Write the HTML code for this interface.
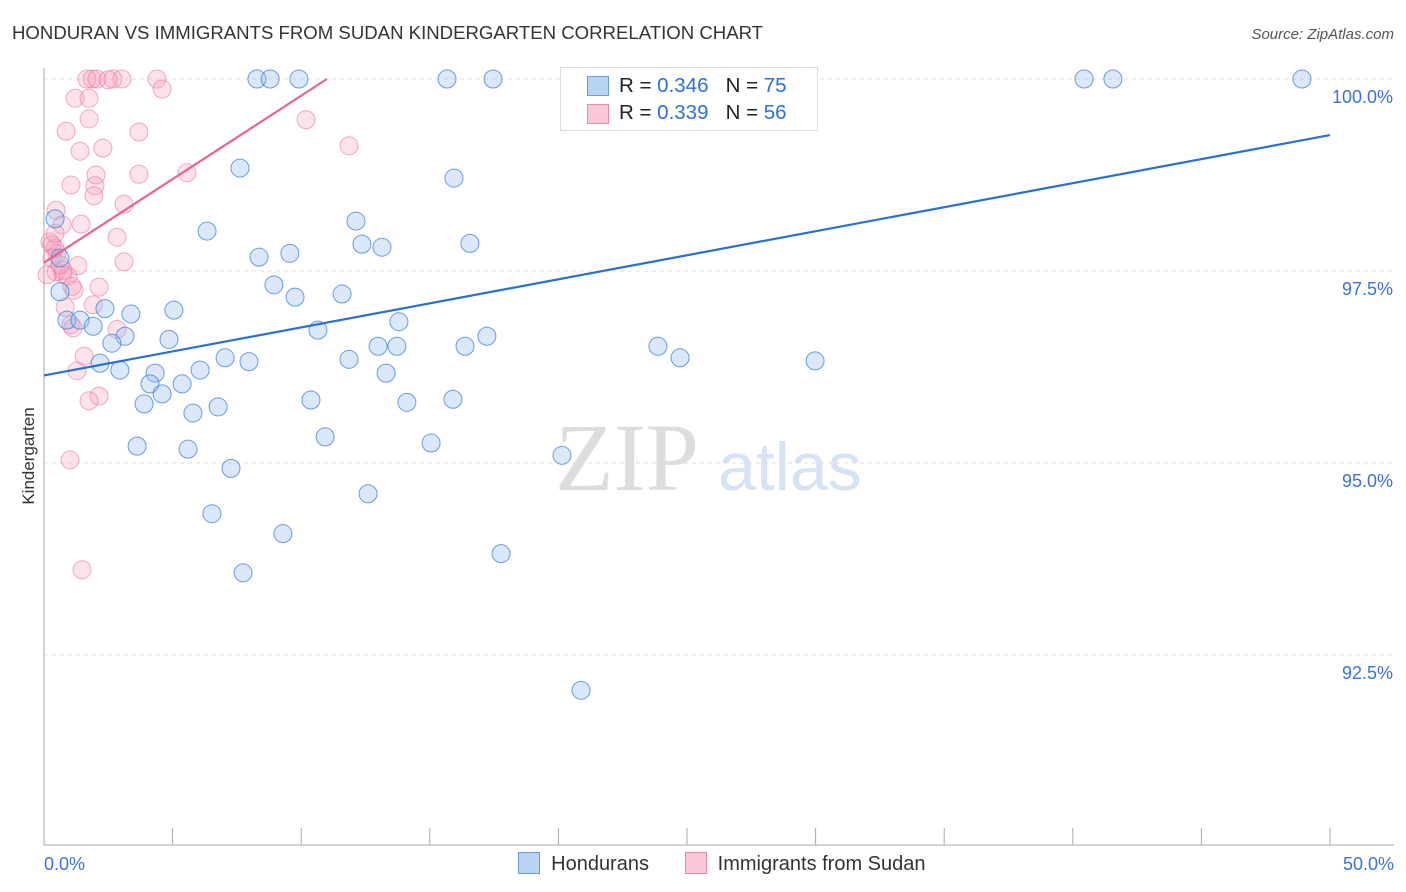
<!DOCTYPE html>
<html><head><meta charset="utf-8"><style>
body{margin:0;background:#fff;font-family:"Liberation Sans",sans-serif;}
#wrap{position:relative;width:1406px;height:892px;overflow:hidden;}
</style></head><body>
<div id="wrap">
<svg id="svg" width="1406" height="892">
<text x="12" y="39" font-size="18.6" fill="#333">HONDURAN VS IMMIGRANTS FROM SUDAN KINDERGARTEN CORRELATION CHART</text>
<text x="1394" y="39" font-size="15" fill="#555" font-style="italic" text-anchor="end">Source: ZipAtlas.com</text>
<text x="34" y="456" font-size="17" fill="#333" transform="rotate(-90 34 456)" text-anchor="middle">Kindergarten</text>
<text x="555" y="490" font-size="96" fill="#ddd" font-family="Liberation Serif,serif">ZIP</text>
<text x="718" y="490" font-size="68" fill="#d6e3f4">atlas</text>
<g id="grid"></g><g id="pts"></g><g id="lines"></g>
</svg>
<div style="position:absolute;left:560px;top:67px;width:256px;height:62px;border:1px solid #ddd;background:#fff;font-size:20.5px;color:#222;">
 <div style="position:absolute;left:26px;top:8px;width:20px;height:18px;background:#b9d3f3;border:1px solid #6a9be0"></div>
 <div style="position:absolute;left:58px;top:6px;white-space:nowrap">R = <span style="color:#2c6fd6">0.346</span>&nbsp;&nbsp;&nbsp;N = <span style="color:#2c6fd6">75</span></div>
 <div style="position:absolute;left:26px;top:36px;width:20px;height:18px;background:#f8c8d6;border:1px solid #ea8aa8"></div>
 <div style="position:absolute;left:58px;top:33px;white-space:nowrap">R = <span style="color:#2c6fd6">0.339</span>&nbsp;&nbsp;&nbsp;N = <span style="color:#2c6fd6">56</span></div>
</div>
<div style="position:absolute;left:518px;top:852px;font-size:20px;color:#333;white-space:nowrap;">
 <span style="display:inline-block;width:20px;height:20px;background:#b9d3f3;border:1px solid #6a9be0;vertical-align:-4px"></span>&nbsp;&nbsp;<span>Hondurans</span>
 <span style="display:inline-block;width:20px;height:20px;background:#f8c8d6;border:1px solid #ea8aa8;vertical-align:-4px;margin-left:30px"></span>&nbsp;&nbsp;<span>Immigrants from Sudan</span>
</div>
</div>
<script>
const yTicks=[100,97.5,95,92.5];
const yTickLabels=["100.0%","97.5%","95.0%","92.5%"];
const blueX=[8.28,8.79,9.91,15.67,17.46,40.44,41.56,48.91,25.0,28.23,7.62,15.94,12.13,6.34,0.43,12.36,13.14,16.56,8.36,9.56,0.62,8.94,9.76,11.59,0.62,5.05,2.37,3.38,0.89,1.40,1.91,10.65,13.80,17.22,3.15,4.86,2.64,12.99,13.72,16.37,23.87,24.73,29.98,7.04,7.97,11.86,2.18,2.95,4.32,6.07,13.30,4.12,5.37,4.59,3.89,10.38,14.11,15.90,5.79,6.77,10.93,3.62,5.60,15.05,20.14,7.27,12.60,6.53,9.29,17.77,7.74,20.88];
const blueY=[100,100,100,100,100,100,100,100,100,100,98.84,98.71,98.15,98.02,98.18,97.85,97.81,97.86,97.68,97.73,97.67,97.32,97.16,97.20,97.23,96.99,97.01,96.94,96.86,96.86,96.78,96.73,96.84,96.65,96.65,96.61,96.56,96.52,96.52,96.52,96.52,96.37,96.33,96.37,96.32,96.35,96.30,96.21,96.17,96.21,96.17,96.03,96.03,95.90,95.77,95.82,95.79,95.83,95.65,95.73,95.34,95.22,95.18,95.26,95.10,94.93,94.60,94.34,94.08,93.82,93.57,92.04];
const pinkX=[1.67,1.87,2.06,2.68,3.03,4.39,4.59,1.21,1.75,1.75,10.19,0.86,3.69,2.29,1.40,11.86,1.05,2.02,3.69,5.56,1.98,1.94,3.11,0.47,1.44,0.70,2.84,0.23,0.43,0.51,0.31,3.11,1.32,0.47,0.74,0.93,0.12,2.14,1.09,1.91,0.82,1.05,2.84,1.13,1.56,1.28,2.14,1.75,1.01,1.48,0.43,0.31,0.74,0.62,1.17,2.49];
const pinkY=[100,100,100,100,100,100,99.87,99.75,99.75,99.48,99.47,99.32,99.31,99.10,99.06,99.13,98.62,98.75,98.76,98.78,98.61,98.48,98.37,98.29,98.11,98.10,97.94,97.88,97.80,97.73,97.84,97.62,97.57,97.49,97.46,97.43,97.45,97.29,97.30,97.06,97.03,96.80,96.74,96.76,96.39,96.20,95.87,95.81,95.04,93.61,97.99,97.67,97.51,97.58,97.25,99.99];
const blueTrend=[0,96.14,50,99.27];
const pinkTrend=[0,97.61,11,100];
const X=v=>44+v*25.72, Y=v=>79+(100-v)*76.8;
const NS="http://www.w3.org/2000/svg";
function mk(t,a,p){const e=document.createElementNS(NS,t);for(const k in a)e.setAttribute(k,a[k]);p.appendChild(e);return e;}
const g=document.getElementById('grid');
yTicks.forEach((t,i)=>{
 const l=mk('line',{x1:44,x2:1394,y1:Y(t),y2:Y(t),stroke:'#ddd','stroke-dasharray':'4,4'},g);
 
 
 const tx=mk('text',{x:1393,y:Y(t)+24,'text-anchor':'end','font-size':18,fill:'#3d73d0'},g);
 tx.textContent=yTickLabels[i];
 
 
});
const ax=mk('line',{x1:44,x2:44,y1:68,y2:845,stroke:'#aaa'},g);


const bx=mk('line',{x1:44,x2:1394,y1:845,y2:845,stroke:'#aaa'},g);


for(let i=0;i<=10;i++){const t=mk('line',{x1:X(i*5),x2:X(i*5),y1:828,y2:845,stroke:'#aaa'},g);
 
 }
[['0.0%',44,'start'],['50.0%',1394,'end']].forEach(a=>{const t=mk('text',{x:a[1],y:870,'text-anchor':a[2],'font-size':18,fill:'#3d73d0'},g);t.textContent=a[0];
 
 });
const p=document.getElementById('pts');
pinkX.forEach((v,i)=>{const c=mk('circle',{cx:X(v),cy:Y(pinkY[i]),r:9,fill:'rgba(244,160,185,0.3)',stroke:'rgba(232,120,155,0.6)','stroke-width':1},p);
 
 });
blueX.forEach((v,i)=>{const c=mk('circle',{cx:X(v),cy:Y(blueY[i]),r:9,fill:'rgba(150,190,240,0.35)',stroke:'rgba(60,125,215,0.75)','stroke-width':1},p);
 
 });
const L=document.getElementById('lines');
const bl=mk('line',{x1:X(blueTrend[0]),y1:Y(blueTrend[1]),x2:X(blueTrend[2]),y2:Y(blueTrend[3]),stroke:'#2a6fd4','stroke-width':2.2},L);


const pl=mk('line',{x1:X(pinkTrend[0]),y1:Y(pinkTrend[1]),x2:X(pinkTrend[2]),y2:Y(pinkTrend[3]),stroke:'#e8648f','stroke-width':2.2},L);


</script>
</body></html>
